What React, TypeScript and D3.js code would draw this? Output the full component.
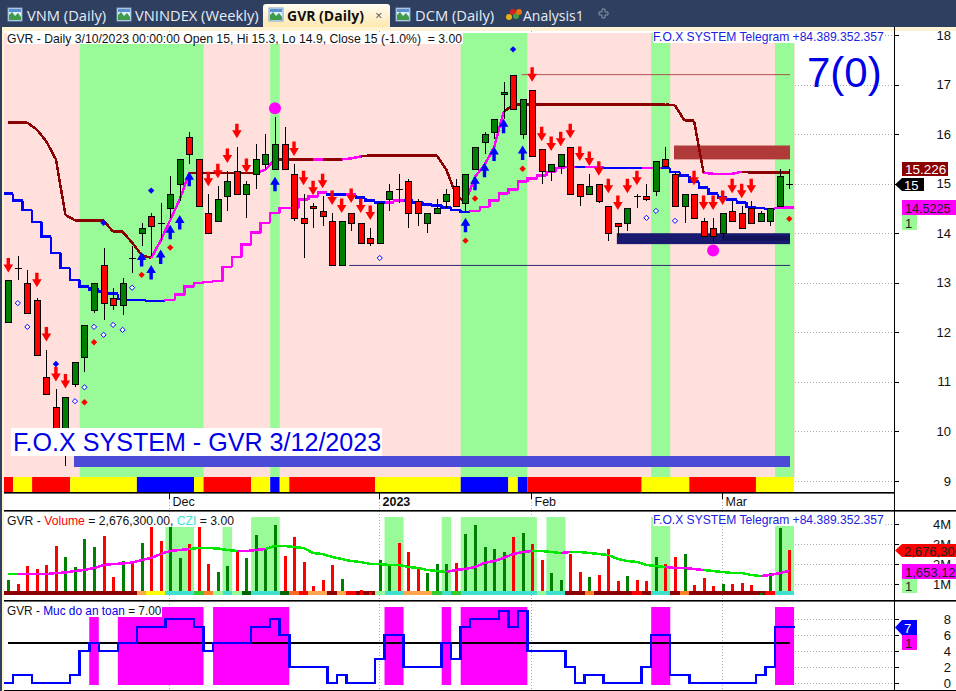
import React from "react";
import * as d3 from "d3";

const opens = [12.2,13.3,13.0,12.65,11.1,10.5,9.95,10.95,11.5,12.45,
13.35,12.7,12.55,13.5,14.0,14.35,14.2,14.5,15.0,15.95,
15.5,14.4,14.25,14.75,15.25,14.8,15.2,15.4,15.3,15.8,
15.2,14.3,14.55,14.45,14.25,13.35,14.4,14.2,13.9,13.8,
14.7,14.9,15.05,14.65,14.2,14.4,14.65,14.95,14.6,15.3,
15.85,16.05,16.8,17.2,16.0,16.9,15.7,15.25,15.35,15.75,
15.0,14.8,15.0,14.55,14.2,14.2,14.75,14.75,14.85,15.5,
15.2,14.55,14.8,14.25,14.1,14.0,14.45,14.4,14.5,14.25,
14.25,14.55,15.0];
const highs = [13.05,13.55,13.25,12.7,11.65,10.85,10.7,11.4,12.15,13.0,
13.7,12.9,13.1,13.75,14.2,14.4,14.6,15.15,15.5,16.05,
15.5,14.8,14.95,15.25,15.75,15.05,15.8,16.0,16.35,16.15,
15.4,14.8,14.6,14.75,14.4,14.25,14.4,14.2,14.1,14.6,
15.0,15.2,15.1,14.7,14.4,14.7,14.9,15.1,15.2,15.75,
16.05,16.3,17.05,17.2,16.7,16.9,15.7,15.4,15.6,15.75,
15.0,15.2,15.0,14.55,14.2,14.5,14.8,15.0,15.45,15.75,
15.25,14.8,14.8,14.3,14.3,14.4,14.65,14.55,14.65,14.45,
14.5,15.3,15.3];
const lows = [12.2,13.05,12.4,11.55,10.75,9.9,9.3,10.9,11.2,12.4,
12.25,12.45,12.35,13.2,13.75,13.55,13.85,14.3,14.65,15.4,
14.55,14.0,14.25,14.45,14.8,14.3,14.9,15.3,15.3,15.3,
14.25,13.5,14.1,14.15,13.35,13.35,14.05,13.8,13.75,13.8,
14.45,14.6,14.1,14.15,14.0,14.4,14.5,14.55,14.4,15.3,
15.6,15.9,16.3,16.5,15.9,15.55,15.0,15.05,15.2,14.8,
14.55,14.8,14.6,13.85,13.95,14.05,14.5,14.65,14.75,15.35,
14.55,14.2,14.3,13.95,13.85,13.9,14.25,14.1,14.2,14.25,
14.15,14.55,14.9];
const closes = [13.05,13.3,12.4,11.55,10.75,10.0,10.7,11.4,12.15,13.0,
12.6,12.55,13.0,13.5,14.1,14.15,14.2,14.8,15.5,15.6,
14.55,14.0,14.7,15.05,14.8,15.0,15.5,15.6,15.8,15.3,
14.3,14.2,14.5,14.35,13.35,14.25,14.2,13.8,13.8,14.6,
14.85,14.9,14.4,14.4,14.4,14.5,14.8,14.55,15.2,15.75,
16.0,16.3,16.85,16.5,16.7,15.55,15.25,15.4,15.6,14.8,
14.75,14.95,14.65,14.0,14.15,14.5,14.75,14.7,15.45,15.35,
14.55,14.8,14.3,13.95,13.95,14.4,14.25,14.1,14.2,14.4,
14.5,15.15,15.0];

const trailLine = [16.23,16.23,16.23,16.09,15.85,15.49,14.37,14.26,14.26,14.26,
14.26,14.03,14.03,13.81,13.56,13.5,13.85,14.27,14.68,15.22,
15.22,15.22,15.22,15.22,15.22,15.22,15.22,15.28,15.49,15.49,
15.49,15.49,15.49,15.49,15.49,15.49,15.51,15.55,15.57,15.57,
15.57,15.57,15.57,15.57,15.57,15.57,15.28,14.78,14.62,15.14,
15.38,15.73,16.44,16.6,16.6,16.6,16.6,16.6,16.6,16.6,
16.6,16.6,16.6,16.6,16.6,16.6,16.6,16.6,16.6,16.6,
16.58,16.27,16.27,15.22,15.2,15.2,15.2,15.24,15.226,15.226,
15.226,15.226,15.226];
const trailMagentaEnds = [16,17,18,19,27,28,33,36,37,49,50,51,52,74,75,76,77];

const stepLine = [14.8,14.66,14.47,14.23,13.93,13.6,13.3,13.06,12.92,12.86,
12.82,12.78,12.67,12.65,12.65,12.63,12.63,12.65,12.76,12.92,
13.0,13.02,13.04,13.32,13.52,13.77,14.01,14.21,14.41,14.51,
14.51,14.68,14.74,14.82,14.78,14.78,14.78,14.72,14.66,14.62,
14.62,14.66,14.66,14.62,14.58,14.56,14.52,14.47,14.43,14.45,
14.53,14.66,14.8,14.88,15.04,15.1,15.16,15.24,15.32,15.34,
15.34,15.34,15.34,15.32,15.32,15.32,15.32,15.32,15.32,15.32,
15.24,15.16,15.04,14.92,14.8,14.72,14.68,14.62,14.53,14.51,
14.49,14.51,14.5225];
const stepMagentaRanges = [[17,33],[36,36],[40,41],[49,59],[61,62],[67,68],[81,82]];

const greenZones = [[8,20],[28,28],[48,54],[68,69],[81,82]];
const stateSpans: [number, number, string][] = [
  [0,0,"red"],[1,2,"yellow"],[3,6,"red"],[7,13,"yellow"],[14,19,"blue"],[20,20,"yellow"],[21,25,"red"],
  [26,27,"yellow"],[28,28,"blue"],[29,29,"yellow"],[30,38,"red"],[39,47,"yellow"],[48,52,"blue"],
  [53,53,"yellow"],[54,54,"blue"],[55,66,"red"],[67,71,"yellow"],[72,78,"red"],[79,82,"yellow"]];

const downArrowBars = [0,3,4,5,6,21,22,23,24,25,30,31,32,33,34,35,36,37,38,55,56,57,58,59,60,61,62,63,64,65,66,72,73,74,75,76,77,78];
const downArrowPrices = [13.5,13.2,12.11,11.3,11.16,15.24,15.4,15.71,16.21,15.51,15.85,15.26,15.06,15.2,14.86,14.7,14.9,14.7,14.56,17.35,16.15,15.95,16.05,16.21,15.75,15.65,15.45,15.1,14.76,15.1,15.26,15.26,14.76,14.76,14.86,15.1,15.0,15.1];
const upArrowBars = [14,15,16,17,18,19,28,48,49,50,51,52,54];
const upArrowPrices = [13.62,13.36,13.67,14.17,14.37,15.24,15.14,14.31,15.16,15.42,15.75,16.31,15.77];
const blueDiamondBars = [5,10,15,53];
const blueDiamondPrices = [11.36,14.21,14.86,17.71];
const redDiamondBars = [8,9,14,17,48,49,54,82];
const redDiamondPrices = [10.59,11.8,13.16,13.71,13.85,14.7,15.3,14.29];
const hollowDiamondBars = [1,2,7,8,9,10,11,12,13,39,67,68,70];
const hollowDiamondPrices = [12.59,12.11,10.61,10.89,12.11,11.95,12.15,12.05,12.9,13.5,14.31,14.45,14.25];
const circleBars = [28,74];
const circlePrices = [16.52,13.65];

const priceTicks = [9,10,11,12,13,14,15,16,17,18];
const monthLabels = ["Dec","2023","Feb","Mar"];
const monthBars = [17,39,55,75];

const volumes = [1.2,1.0,1.9,1.75,1.95,2.9,2.35,1.85,3.25,2.85,
3.4,1.35,2.15,2.1,3.05,3.85,3.15,3.85,2.3,3.0,
3.85,2.0,1.6,1.9,2.6,2.3,3.45,2.8,3.95,2.4,
3.35,2.1,0.9,1.2,1.95,1.25,0.45,0.7,0.6,2.2,
1.95,3.05,2.6,1.75,1.55,2.0,2.0,2.05,3.5,3.95,
2.85,2.75,2.6,3.35,3.55,3.0,2.2,1.55,1.2,2.5,
1.6,1.35,1.45,2.75,1.15,1.4,1.2,1.15,2.35,2.0,
2.35,2.5,0.95,1.3,0.9,1.0,1.0,1.05,0.95,0.55,
1.55,3.8,2.6763];
const volumeUp = [1,0,0,0,0,0,1,1,1,1,
0,0,1,0,1,0,0,1,1,0,
0,0,1,1,0,1,1,1,1,0,
0,0,0,0,0,1,0,0,0,1,
1,0,0,0,1,1,1,0,1,1,
1,1,1,0,1,0,0,1,1,0,
0,1,0,0,0,1,0,0,1,0,
0,1,0,0,0,1,0,0,0,1,
1,1,0];
const volumeMA = [1.5,1.5,1.5,1.5,1.5,1.55,1.575,1.65,1.7,1.8,
1.95,2.0,2.025,2.075,2.2,2.3,2.5,2.65,2.7,2.75,
2.8,2.8,2.775,2.7,2.65,2.65,2.7,2.75,2.9,2.9,
2.85,2.8,2.55,2.5,2.35,2.25,2.15,2.1,2.0,2.0,
1.95,1.95,1.85,1.8,1.7,1.65,1.6,1.7,1.75,1.85,
2.05,2.15,2.3,2.5,2.6,2.65,2.65,2.6,2.55,2.6,
2.6,2.55,2.5,2.45,2.25,2.15,2.1,1.95,1.9,1.85,
1.8,1.8,1.75,1.7,1.65,1.6,1.55,1.55,1.45,1.4,
1.45,1.55,1.65312];
const volumeMAMagentaRanges = [[2,19],[25,27],[47,55],[59,59],[70,73],[80,82]];
const volumeZones = [[17,19],[23,23],[26,28],[40,41],[46,46],[48,55],[57,58],[68,69],[81,82]];
const czSpans: [number, number, string][] = [
  [0,13,"#8b0000"],[14,14,"#ffa64d"],[15,16,"#ffff00"],[17,19,"#40e0d0"],[20,20,"#32cd32"],[21,21,"#ff7f27"],
  [22,22,"#98fb98"],[23,23,"#40e0d0"],[24,24,"#98fb98"],[25,25,"#006400"],[26,28,"#40e0d0"],[29,29,"#006400"],
  [30,30,"#ff6820"],[31,31,"#ff0000"],[32,33,"#ffa64d"],[34,34,"#8b0000"],[35,35,"#ffa64d"],[36,36,"#ff0000"],
  [37,38,"#8b0000"],[39,39,"#98fb98"],[40,41,"#40e0d0"],[42,44,"#ffa64d"],[45,45,"#32cd32"],[46,46,"#40e0d0"],
  [47,47,"#32cd32"],[48,55,"#40e0d0"],[56,56,"#98fb98"],[57,58,"#40e0d0"],[59,60,"#8b0000"],[61,61,"#ff7f27"],
  [62,65,"#8b0000"],[66,66,"#ff0000"],[67,67,"#8b0000"],[68,69,"#40e0d0"],[70,70,"#8b0000"],[71,71,"#ff7f27"],
  [72,79,"#8b0000"],[80,80,"#ff0000"],[81,82,"#40e0d0"]];
const volumeTicks = [1,2,3,4];

const safetyLevels = [0,1,1,0,0,0,0,1,4,5,
4,4,5,5,7,7,7,8,8,8,
7,4,5,5,5,5,7,7,8,6,
2,2,2,2,0,1,0,0,0,3,
6,6,2,2,2,2,5,3,7,8,
8,8,9,7,9,4,4,4,4,2,
0,1,1,0,0,0,0,2,6,6,
1,1,0,0,0,0,0,0,0,1,
2,7,7];
const safetyZones = [[9,9],[12,20],[22,29],[40,41],[46,46],[48,54],[68,69],[81,82]];
const safetyThreshold = 5;
const safetyTicks = [0,2,4,6,8];

const tabNames = ["VNM (Daily)","VNINDEX (Weekly)","GVR (Daily)","DCM (Daily)","Analysis1"];

const W = 956, H = 691, AXIS_X = 894, END_X = 795;
const x = d3.scaleLinear().domain([0,82]).range([8.3,789.3]);
const step = x(1)-x(0);
const y = d3.scaleLinear().domain([9,18]).range([481,35]);
const yVol = d3.scaleLinear().domain([0,4]).range([604,524]);
const ySafe = d3.scaleLinear().domain([0,8]).range([683,619]);
const SANS = "'Liberation Sans', Arial, sans-serif";
const TAB = "'Open Sans', sans-serif";
const inRanges = (i:number, r:number[][]) => r.some(([a,b])=>i>=a&&i<=b);
const left = (i:number)=>Math.max(4,x(i)-step/2);
const right = (i:number)=>Math.min(END_X,x(i)+step/2);

const segLine = d3.line<[number,number]>();

function Diamond({cx,cy,r,fill,stroke}:{cx:number,cy:number,r:number,fill:string,stroke?:string}){
  return <path d={`M${cx},${cy-r}L${cx+r},${cy}L${cx},${cy+r}L${cx-r},${cy}Z`} fill={fill} stroke={stroke||"none"} strokeWidth={1}/>;
}
function Arrow({cx,top,dir,color}:{cx:number,top:number,dir:number,color:string}){
  const h=14.5, hw=4.8, sw=1.7, head=8;
  const pts = dir>0
    ? [[cx-sw,top],[cx+sw,top],[cx+sw,top+h-head],[cx+hw,top+h-head],[cx,top+h],[cx-hw,top+h-head],[cx-sw,top+h-head]]
    : [[cx,top],[cx+hw,top+head],[cx+sw,top+head],[cx+sw,top+h],[cx-sw,top+h],[cx-sw,top+head],[cx-hw,top+head]];
  return <polygon points={pts.map(p=>p.join(",")).join(" ")} fill={color}/>;
}
function Chip({x0,x1,y0,y1,fill,text,color,tip,size=13}:{x0:number,x1:number,y0:number,y1:number,fill:string,text:string,color:string,tip?:boolean,size?:number}){
  const m=(y0+y1)/2;
  return <g>
    {tip
      ? <polygon points={`${x0},${m} ${x0+7},${y0} ${x1},${y0} ${x1},${y1} ${x0+7},${y1}`} fill={fill}/>
      : <rect x={x0} y={y0} width={x1-x0} height={y1-y0} fill={fill}/>}
    <text x={x0+(tip?9:3)} y={m+5} fontSize={size} fontFamily={SANS} fill={color}>{text}</text>
  </g>;
}
function Icon({x0}:{x0:number}){
  return <g>
    <rect x={x0} y={8} width={14} height={13} fill="#dfefff" stroke="#7fa0c8" strokeWidth={1}/>
    <polygon points={`${x0+1},20 ${x0+1},15 ${x0+4},12 ${x0+7},16 ${x0+10},13 ${x0+13},17 ${x0+13},20`} fill="#3f9a4a"/>
    <rect x={x0+1} y={9} width={12} height={3} fill="#5a8fd0"/>
  </g>;
}

export default function App(){
  const n = closes.length;
  const idx = d3.range(n);
  const tickX = (b:number)=>Math.round(x(b))-0.5;
  return (
    <svg width={W} height={H} viewBox={`0 0 ${W} ${H}`} style={{position:"absolute",left:0,top:0,background:"#fff"}}>
      <defs>
        <linearGradient id="tabg" x1="0" y1="0" x2="0" y2="1">
          <stop offset="0" stopColor="#fffdf2"/><stop offset="1" stopColor="#ffe8b0"/>
        </linearGradient>
      </defs>
      <rect x={0} y={0} width={W} height={27} fill="#2f3f5f"/>
      <rect x={0} y={27} width={W} height={4} fill="#fff3d4"/>
      <rect x={0} y={27} width={2} height={H-27} fill="#2f3f5f"/>
      <rect x={2} y={27} width={2} height={H-27} fill="#fff3d4"/>
      <path d="M263,27V7Q263,4 266,4H387Q390,4 390,7V27Z" fill="url(#tabg)"/>
      <Icon x0={8}/><Icon x0={117}/><Icon x0={269}/><Icon x0={396}/>
      <text x={27} y={21} fontFamily={TAB} fontSize={14.7} fill="#e6ecf5">{tabNames[0]}</text>
      <text x={135} y={21} fontFamily={TAB} fontSize={14.7} fill="#e6ecf5">{tabNames[1]}</text>
      <text x={287} y={21} fontFamily={TAB} fontSize={14} fontWeight={700} fill="#111">{tabNames[2]}</text>
      <text x={375} y={20} fontFamily={TAB} fontSize={13} fill="#555">×</text>
      <text x={415} y={21} fontFamily={TAB} fontSize={14.7} fill="#e6ecf5">{tabNames[3]}</text>
      <g>
        <circle cx={509} cy={17} r={3} fill="#e8b010"/><circle cx={513} cy={12} r={3} fill="#d82020"/>
        <circle cx={516} cy={16} r={3} fill="#40a040"/><circle cx={519} cy={12} r={3} fill="#e87010"/>
      </g>
      <text x={523} y={21} fontFamily={TAB} fontSize={14} fill="#e6ecf5">{tabNames[4]}</text>
      <path d="M599,12h3v-3h3v3h3v3h-3v3h-3v-3h-3z" fill="none" stroke="#8896aa" strokeWidth={1}/>

      {monthBars.map(b=><line key={b} x1={tickX(b)} x2={tickX(b)} y1={31} y2={690} stroke="#aaa" strokeDasharray="1 2"/>)}

      <rect x={4} y={33} width={END_X-4} height={444} fill="#ffe0dc"/>
      {greenZones.map(([a,b])=><rect key={a} x={left(a)} y={33} width={right(b)-left(a)} height={444} fill="#98fb98"/>)}
      {priceTicks.map(t=><line key={t} x1={END_X} x2={AXIS_X} y1={Math.round(y(t))+.5} y2={Math.round(y(t))+.5} stroke="#aaa" strokeDasharray="1 2"/>)}

      {stateSpans.map(([a,b,c])=><rect key={a} x={left(a)} y={477} width={right(b)-left(a)} height={15} fill={c}/>)}

      <rect x={x(70)-1} y={y(15.77)} width={790-(x(70)-1)} height={y(15.49)-y(15.77)} fill="#b03a3a"/>
      <rect x={x(64)-1} y={y(14.0)} width={790-(x(64)-1)} height={y(13.78)-y(14.0)} fill="#191970"/>
      <rect x={722} y={y(13.95)} width={68} height={y(13.85)-y(13.95)} fill="#12125a"/>
      <line x1={x(53.9)} x2={790} y1={y(17.2)} y2={y(17.2)} stroke="#b05050" strokeWidth={1}/>
      <line x1={x(35.8)} x2={790} y1={y(13.35)} y2={y(13.35)} stroke="#2a2a70" strokeWidth={1}/>
      <rect x={74} y={456} width={716} height={11} fill="#4b4bd8"/>

      <g shapeRendering="crispEdges">
      {idx.map(i=>{
        const col = inRanges(i,stepMagentaRanges)?"#ff00ff":"#0000ff";
        const yy=y(stepLine[i]);
        const pts:[number,number][] = i===0?[[left(0),yy],[right(0),yy]]:[[left(i),y(stepLine[i-1])],[left(i),yy],[right(i),yy]];
        return <path key={i} d={segLine(pts)!} fill="none" stroke={col} strokeWidth={2.5}/>;
      })}
      {idx.slice(1).map(i=>{
        const col = trailMagentaEnds.includes(i)?"#ff00ff":"#8b0000";
        return <path key={i} d={segLine([[x(i-1),y(trailLine[i-1])],[x(i),y(trailLine[i])]])!} fill="none" stroke={col} strokeWidth={2.5}/>;
      })}
      </g>

      {idx.map(i=>{
        const cx=Math.round(x(i))+.5;
        const o=opens[i],c=closes[i];
        const top=Math.round(y(Math.max(o,c)))+.5,bot=Math.round(y(Math.min(o,c)))+.5;
        return <g key={i} shapeRendering="crispEdges">
          <line x1={cx} x2={cx} y1={y(highs[i])} y2={y(lows[i])} stroke="#000" strokeWidth={1}/>
          {o===c
            ? <line x1={cx-3.5} x2={cx+3.5} y1={top} y2={top} stroke="#000"/>
            : <rect x={cx-3} y={top} width={6} height={Math.max(1,bot-top)} fill={c>o?"#008000":"#ff0000"} stroke="#000" strokeWidth={1}/>}
        </g>;
      })}

      {downArrowBars.map((b,k)=><Arrow key={b} cx={x(b)} top={y(downArrowPrices[k])} dir={1} color="#ff0000"/>)}
      {upArrowBars.map((b,k)=><Arrow key={b} cx={x(b)} top={y(upArrowPrices[k])} dir={-1} color="#0000ff"/>)}
      {blueDiamondBars.map((b,k)=><Diamond key={b} cx={x(b)} cy={y(blueDiamondPrices[k])} r={3.2} fill="#0000ff"/>)}
      {redDiamondBars.map((b,k)=><Diamond key={b} cx={x(b)} cy={y(redDiamondPrices[k])} r={3.2} fill="#ff0000"/>)}
      {hollowDiamondBars.map((b,k)=><Diamond key={b} cx={x(b)} cy={y(hollowDiamondPrices[k])} r={2.6} fill="#ffffff" stroke="#0000ff"/>)}
      {circleBars.map((b,k)=><circle key={b} cx={x(b)} cy={y(circlePrices[k])} r={6} fill="#ff00ff"/>)}

      <rect x={7} y={33} width={456} height={11} fill="#fff"/>
      <text x={7} y={42.5} fontFamily={SANS} fontSize={12.2} fill="#111" style={{whiteSpace:"pre"}}>GVR - Daily 3/10/2023 00:00:00 Open 15, Hi 15.3, Lo 14.9, Close 15 (-1.0%)  = 3.00</text>
      <rect x={653} y={31} width={232} height={12} fill="#fff"/>
      <text x={653} y={41} fontFamily={SANS} fontSize={12.1} fill="#2020e0">F.O.X SYSTEM Telegram +84.389.352.357</text>
      <text x={807} y={87} fontFamily={SANS} fontSize={42} fill="#0000e8">7(0)</text>
      <rect x={11} y={428} width={371} height={28} fill="#fff"/>
      <text x={13} y={451} fontFamily={SANS} fontSize={25.1} fill="#0000e8">F.O.X SYSTEM - GVR 3/12/2023</text>

      {monthBars.map((b,k)=><g key={b}>
        <line x1={tickX(b)} x2={tickX(b)} y1={493} y2={499} stroke="#000"/>
        <text x={tickX(b)+3} y={506} fontFamily={SANS} fontSize={12.5} fontWeight={monthLabels[k]==="2023"?700:400} fill="#111">{monthLabels[k]}</text>
      </g>)}

      {volumeZones.map(([a,b])=><rect key={a} x={left(a)} y={517} width={right(b)-left(a)} height={78} fill="#98fb98"/>)}
      {volumeTicks.map(t=><line key={t} x1={END_X} x2={AXIS_X} y1={yVol(t)+.5} y2={yVol(t)+.5} stroke="#aaa" strokeDasharray="1 2"/>)}
      <g shapeRendering="crispEdges">
      {idx.filter(i=>volumes[i]>=0.75).map(i=><rect key={i} x={Math.round(x(i))-1} y={yVol(volumes[i])} width={2.5} height={595-yVol(volumes[i])} fill={volumeUp[i]?"#008000":"#ff0000"}/>)}
      {czSpans.map(([a,b,c])=><rect key={a} x={left(a)} y={591} width={right(b)-left(a)} height={4} fill={c}/>)}
      {idx.filter(i=>volumes[i]<0.75).map(i=><rect key={i} x={Math.round(x(i))-1} y={yVol(volumes[i])} width={2.5} height={595-yVol(volumes[i])} fill={volumeUp[i]?"#008000":"#ff0000"}/>)}
      {idx.slice(1).map(i=><path key={i} d={segLine([[x(i-1),yVol(volumeMA[i-1])],[x(i),yVol(volumeMA[i])]])!} fill="none" strokeWidth={2.5}
        stroke={inRanges(i,volumeMAMagentaRanges)?"#ff00ff":"#00e800"}/>)}
      </g>
      <rect x={7} y={516} width={226} height={11} fill="#fff"/>
      <text x={7} y={524.5} fontFamily={SANS} fontSize={12.2} fill="#111" style={{whiteSpace:"pre"}}>GVR - <tspan fill="#ff0000">Volume</tspan> = 2,676,300.00, <tspan fill="#40e0d0">CZI</tspan> = 3.00</text>
      <rect x={653} y={513} width={232} height={13} fill="#fff"/>
      <text x={653} y={524} fontFamily={SANS} fontSize={12.1} fill="#2020e0">F.O.X SYSTEM Telegram +84.389.352.357</text>

      {safetyZones.map(([a,b])=><rect key={a} x={left(a)} y={607} width={right(b)-left(a)} height={78} fill="#ff00ff"/>)}
      {safetyTicks.map(t=><line key={t} x1={END_X} x2={AXIS_X} y1={ySafe(t)+.5} y2={ySafe(t)+.5} stroke="#aaa" strokeDasharray="1 2"/>)}
      <g shapeRendering="crispEdges">
      <line x1={8} x2={790} y1={ySafe(safetyThreshold)} y2={ySafe(safetyThreshold)} stroke="#000" strokeWidth={2}/>
      <path d={d3.line<number>().x(i=>x(i)).y(i=>ySafe(safetyLevels[i])).curve(d3.curveStep)(idx)!+`M${x(82)},${ySafe(safetyLevels[82])}L${END_X},${ySafe(safetyLevels[82])}M4,${ySafe(safetyLevels[0])}L${x(0)},${ySafe(safetyLevels[0])}`} fill="none" stroke="#0000ff" strokeWidth={2.5}/>
      </g>
      <rect x={7} y={606} width={155} height={11} fill="#fff"/>
      <text x={7} y={614.5} fontFamily={SANS} fontSize={11.85} fill="#111">GVR - <tspan fill="#0000e8">Muc do an toan</tspan> = 7.00</text>

      <rect x={4} y={492} width={890} height={1.6} fill="#000"/>
      <rect x={4} y={510} width={952} height={1.6} fill="#000"/>
      <rect x={4} y={600} width={952} height={1.6} fill="#000"/>
      <rect x={4} y={690} width={952} height={1} fill="#000"/>
      <line x1={AXIS_X+.5} x2={AXIS_X+.5} y1={27} y2={691} stroke="#000"/>
      {priceTicks.map(t=><g key={t}>
        <line x1={AXIS_X} x2={899} y1={Math.round(y(t))+.5} y2={Math.round(y(t))+.5} stroke="#000"/>
        <text x={951} y={y(t)+4.5} textAnchor="end" fontFamily={SANS} fontSize={13} fill="#111">{t}</text>
      </g>)}
      {volumeTicks.map(t=><g key={t}>
        <line x1={AXIS_X} x2={899} y1={yVol(t)+.5} y2={yVol(t)+.5} stroke="#000"/>
        <text x={951} y={yVol(t)+4.5} textAnchor="end" fontFamily={SANS} fontSize={13} fill="#111">{t}M</text>
      </g>)}
      {safetyTicks.map(t=><g key={t}>
        <line x1={AXIS_X} x2={899} y1={ySafe(t)+.5} y2={ySafe(t)+.5} stroke="#000"/>
        <text x={951} y={ySafe(t)+4.5} textAnchor="end" fontFamily={SANS} fontSize={13} fill="#111">{t}</text>
      </g>)}
      <Chip x0={902} x1={948} y0={162} y1={176} fill="#8b0000" text={String(trailLine[82])} color="#fff" size={13.5}/>
      <Chip x0={895} x1={924} y0={178} y1={191} fill="#000" text={String(closes[82])} color="#fff" tip/>
      <Chip x0={902} x1={956} y0={200} y1={215} fill="#ff00ff" text={String(stepLine[82])} color="#222" size={12.6}/>
      <Chip x0={902} x1={917} y0={215} y1={230} fill="#98fb98" text="1" color="#222"/>
      <Chip x0={895} x1={956} y0={544} y1={557} fill="#ff0000" text="2,676,300" color="#222" tip/>
      <Chip x0={902} x1={956} y0={564} y1={579} fill="#ff00ff" text="1,653,120" color="#222"/>
      <Chip x0={902} x1={917} y0={579} y1={593} fill="#98fb98" text="1" color="#222"/>
      <Chip x0={895} x1={917} y0={620} y1={635} fill="#0000ff" text="7" color="#fff" tip/>
      <Chip x0={902} x1={917} y0={635} y1={650} fill="#ff00ff" text="1" color="#222"/>
    </svg>
  );
}
